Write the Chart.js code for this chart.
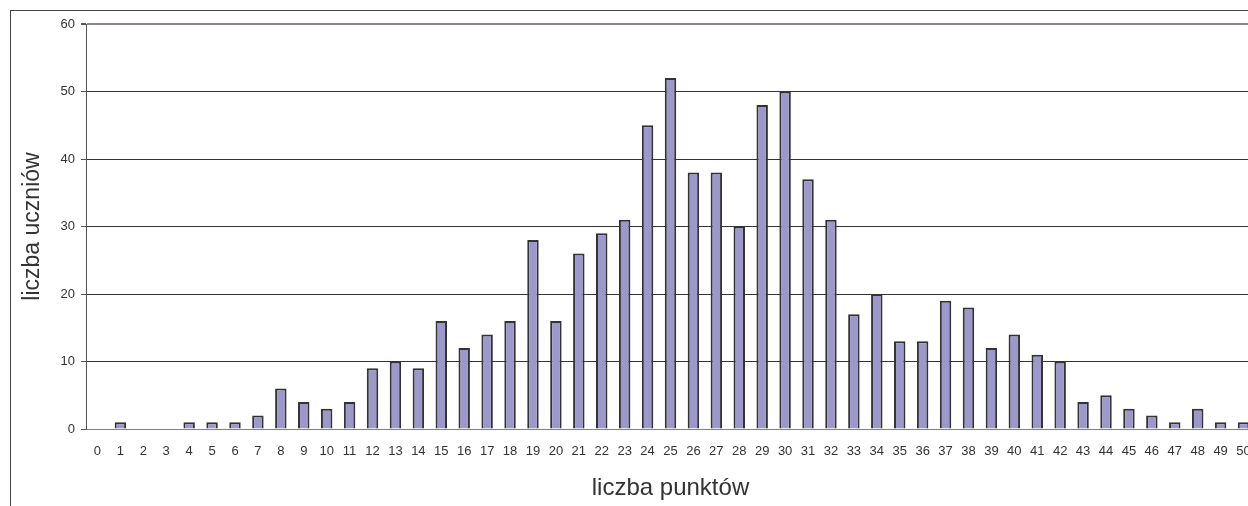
<!DOCTYPE html>
<html>
<head>
<meta charset="utf-8">
<script src="https://cdn.jsdelivr.net/npm/chart.js@4"></script>
<style>
  html, body { margin: 0; padding: 0; background: #fff; overflow: hidden; width: 1248px; height: 506px; }
  #frame { position: absolute; left: 10px; top: 10px; width: 1400px; height: 600px; border: 1px solid #444; box-sizing: border-box; }
  #chart { position: absolute; left: 0; top: 0; }
</style>
</head>
<body>
<div id="frame"></div>
<canvas id="chart" width="1300" height="506"></canvas>
<script>
const points = ['0','1','2','3','4','5','6','7','8','9','10','11','12','13','14','15','16','17','18','19','20',
    '21','22','23','24','25','26','27','28','29','30','31','32','33','34','35','36','37','38','39','40',
    '41','42','43','44','45','46','47','48','49','50'];
const students = [0, 1, 0, 0, 1, 1, 1, 2, 6, 4, 3, 4, 9, 10, 9, 16, 12, 14, 16, 28, 16,
    26, 29, 31, 45, 52, 38, 38, 30, 48, 50, 37, 31, 17, 20, 13, 13, 19, 18, 12, 14,
    11, 10, 4, 5, 3, 2, 1, 3, 1, 1];
const yTicks = [0, 10, 20, 30, 40, 50, 60];

const fontFamily = '"Liberation Sans", Arial, sans-serif';

const chart = new Chart(document.getElementById('chart').getContext('2d'), {
    type: 'bar',
    data: {
        labels: points,
        datasets: [{
            label: 'liczba uczniów',
            data: students,
            backgroundColor: '#9c98cb',
            borderColor: '#333333',
            borderWidth: 2,
            barPercentage: 0.5,
            categoryPercentage: 1.0
        }]
    },
    options: {
        responsive: false,
        animation: false,
        devicePixelRatio: 1,
        layout: { padding: { left: 0, right: 45, top: 24, bottom: 0 } },
        plugins: { legend: { display: false }, tooltip: { enabled: false } },
        scales: {
            x: {
                grid: { display: false, drawTicks: false },
                border: { display: true, color: '#808080', width: 1 },
                ticks: {
                    autoSkip: false, maxRotation: 0, minRotation: 0, padding: 15,
                    color: '#333', font: { family: fontFamily, size: 13 }
                },
                title: {
                    display: true, text: 'liczba punktów', color: '#333',
                    font: { family: fontFamily, size: 24 }, padding: { top: 0, bottom: 3 }
                },
                afterFit: (scale) => { scale.height = 77; }
            },
            y: {
                min: 0, max: 60,
                afterBuildTicks: (scale) => { scale.ticks = yTicks.map(v => ({ value: v })); },
                grid: {
                    color: (ctx) => ctx.tick && ctx.tick.value === 60 ? '#8d8583' : (ctx.tick && ctx.tick.value === 0 ? '#808080' : '#333'),
                    lineWidth: (ctx) => ctx.tick && ctx.tick.value === 60 ? 2 : 1,
                    tickColor: '#555', tickLength: 5, drawTicks: true
                },
                border: { display: true, color: '#555', width: 1 },
                ticks: { padding: 6, color: '#333', font: { family: fontFamily, size: 13 } },
                title: {
                    display: true, text: 'liczba uczniów', color: '#333',
                    font: { family: fontFamily, size: 23 }, padding: { top: 19, bottom: 0 }
                },
                afterFit: (scale) => { scale.width = 86; }
            }
        }
    }
});
</script>
</body>
</html>
